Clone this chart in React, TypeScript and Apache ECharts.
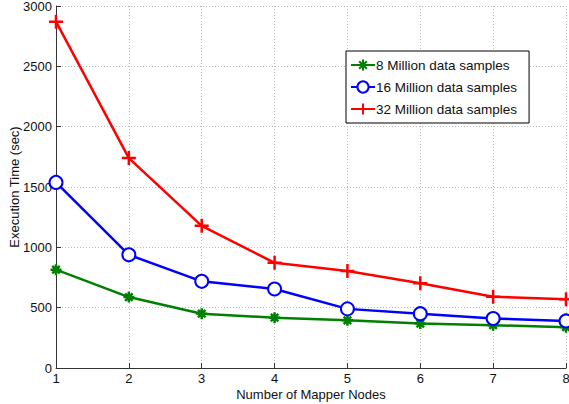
import React, { useEffect, useRef } from "react";
import * as echarts from "echarts";

const nodes = [1, 2, 3, 4, 5, 6, 7, 8];
const samples8M = [815, 588, 450, 417, 395, 368, 355, 338];
const samples16M = [1538, 938, 718, 655, 490, 450, 410, 390];
const samples32M = [2870, 1740, 1178, 872, 804, 702, 590, 570];
const seriesNames = ["8 Million data samples", "16 Million data samples", "32 Million data samples"];
const yTicks = [0, 500, 1000, 1500, 2000, 2500, 3000];

const asterisk = "path://M5,0L5,10M0,5L10,5M1.6,1.6L8.4,8.4M8.4,1.6L1.6,8.4";
const plus = "path://M5,0L5,10M0,5L10,5";

export default function App() {
  const ref = useRef<HTMLDivElement>(null);
  useEffect(() => {
    if (!ref.current) return;
    const chart = echarts.init(ref.current, undefined, { renderer: "svg" });
    const font = "Liberation Sans, Arial, Helvetica, sans-serif";
    const mk = (vals: number[]) => vals.map((v, i) => [nodes[i], v]);
    chart.setOption({
      animation: false,
      textStyle: { fontFamily: font },
      grid: { left: 56, right: 3, top: 6, bottom: 36, containLabel: false, outerBoundsMode: "none" },
      legend: {
        orient: "vertical",
        left: 346,
        top: 51,
        padding: [7, 12, 7, 4],
        itemGap: 8,
        itemWidth: 24,
        itemHeight: 14,
        backgroundColor: "#fff",
        borderColor: "#000",
        borderWidth: 1,
        textStyle: { fontSize: 13.5, color: "#111", fontFamily: font, padding: [0, 0, 0, -4] },
        data: seriesNames,
      },
      xAxis: {
        type: "value",
        min: 1,
        max: 8,
        interval: 1,
        name: "Number of Mapper Nodes",
        nameLocation: "middle",
        nameGap: 20,
        nameMoveOverlap: false,
        nameTextStyle: { fontSize: 13, color: "#111", fontFamily: font },
        axisLine: { show: true, lineStyle: { color: "#333", width: 1 } },
        axisTick: { show: true, inside: true, length: 5, lineStyle: { color: "#333" } },
        axisLabel: { fontSize: 13, color: "#111", margin: 4, fontFamily: font, formatter: (v: number) => String(v) },
        splitLine: { show: true, lineStyle: { color: "#bbb", type: [1, 2], width: 1 } },
      },
      yAxis: {
        type: "value",
        min: yTicks[0],
        max: yTicks[yTicks.length - 1],
        interval: 500,
        name: "Execution Time (sec)",
        nameLocation: "middle",
        nameGap: 35,
        nameMoveOverlap: false,
        nameTextStyle: { fontSize: 13, color: "#111", fontFamily: font },
        axisLine: { show: true, lineStyle: { color: "#333", width: 1 } },
        axisTick: { show: true, inside: true, length: 5, lineStyle: { color: "#333" } },
        axisLabel: { fontSize: 13, color: "#111", margin: 4, fontFamily: font, formatter: (v: number) => String(v) },
        splitLine: { show: true, lineStyle: { color: "#bbb", type: [1, 2], width: 1 } },
      },
      series: [
        {
          name: seriesNames[0],
          type: "line",
          data: mk(samples8M),
          symbol: asterisk,
          symbolSize: 11,
          lineStyle: { color: "#008000", width: 2.5 },
          itemStyle: { color: "#008000", borderColor: "#008000", borderWidth: 2.5 },
          z: 3,
        },
        {
          name: seriesNames[1],
          type: "line",
          data: mk(samples16M),
          symbol: "emptyCircle",
          symbolSize: 13,
          lineStyle: { color: "#0000ff", width: 2.5 },
          itemStyle: { color: "#0000ff", borderColor: "#0000ff", borderWidth: 2.5 },
          z: 4,
        },
        {
          name: seriesNames[2],
          type: "line",
          data: mk(samples32M),
          symbol: plus,
          symbolSize: 14,
          lineStyle: { color: "#ff0000", width: 2.5 },
          itemStyle: { color: "#ff0000", borderColor: "#ff0000", borderWidth: 2.5 },
          z: 5,
        },
      ],
    });
    return () => chart.dispose();
  }, []);
  return <div ref={ref} style={{ width: 569, height: 404, position: "absolute", left: 0, top: 0 }} />;
}
